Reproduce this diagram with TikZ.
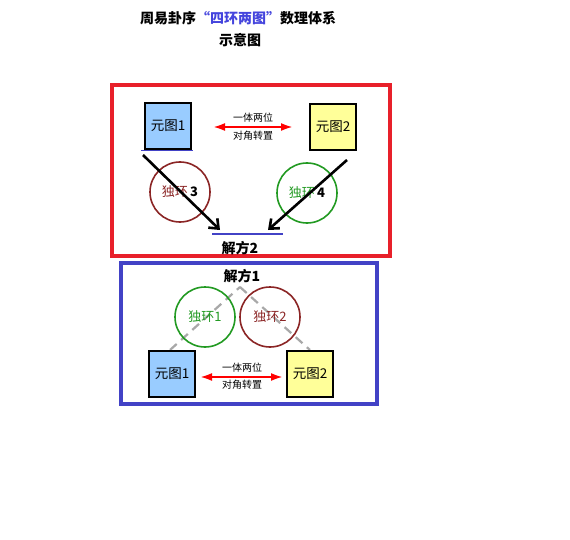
\documentclass[tikz,border=0pt]{standalone}
\usepackage{fontspec}
\newfontfamily\cjk{Noto Sans CJK SC}
\usetikzlibrary{arrows.meta}
\definecolor{redframe}{HTML}{E8202A}
\definecolor{blueframe}{HTML}{4242C6}
\definecolor{boxblue}{HTML}{99CCFF}
\definecolor{boxyellow}{HTML}{FFFF99}
\definecolor{ringred}{HTML}{8B2525}
\definecolor{ringgreen}{HTML}{229A22}
\definecolor{titleblue}{HTML}{4444DD}
\definecolor{dashgrey}{HTML}{A8A8A8}
\begin{document}
\begin{tikzpicture}[x=1pt,y=-1pt,
  yuan/.style={draw=black, line width=1.8pt, minimum width=46pt, minimum height=46pt, inner sep=0pt, font=\cjk\fontsize{13.5}{13.5}\selectfont},
  ring/.style={circle, draw, line width=1.6pt, minimum size=60pt, inner sep=0pt, font=\cjk\fontsize{13}{13}\selectfont},
  note/.style={font=\cjk\fontsize{10}{10}\selectfont, inner sep=0pt},
  heading/.style={font=\cjk\bfseries\fontsize{14}{14}\selectfont, inner sep=0pt},
  swaparrow/.style={draw=red, line width=2.2pt, {Latex[length=12pt,width=8pt]}-{Latex[length=12pt,width=8pt]}},
  blackarrow/.style={draw=black, line width=2.6pt, -{Straight Barb[length=8pt,width=13pt]}},
  frame/.style={line width=3.8pt},
  greydash/.style={draw=dashgrey, line width=2.2pt, dash pattern=on 9pt off 6pt}
]
\useasboundingbox (0,0) rectangle (570,540);
\fill[white] (0,0) rectangle (570,540);

% title
\node[heading] (title1) at (238,18) {周易卦序\textcolor{titleblue}{“四环两图”}数理体系};
\node[heading] (title2) at (240,40) {示意图};

% frames
\draw[frame, draw=redframe] (112,85) rectangle (390,256);
\draw[frame, draw=blueframe] (121,263) rectangle (377,404);

% ===== upper part (解方2) =====
\node[yuan, fill=boxblue] (ya) at (168,126) {元图1};
\node[yuan, fill=boxyellow] (yb) at (333,127) {元图2};
\coordinate (ulA) at (141,151);
\coordinate (ulB) at (193,151);
\draw[blueframe, line width=1pt] (ulA) -- (ulB);

\coordinate (sa) at (213,127);
\coordinate (sb) at (293,127);
\draw[swaparrow] (sa) -- (sb);
\node[note] (na1) at (253,118) {一体两位};
\node[note] (na2) at (253,136) {对角转置};

\node[ring, draw=ringred] (r3) at (180,192) {\textcolor{ringred}{独环}\,\textbf{3}};
\node[ring, draw=ringgreen] (r4) at (307,193) {\textcolor{ringgreen}{独环}\,\textbf{4}};

\coordinate (ba1) at (143,155);
\coordinate (ba2) at (220,230);
\coordinate (bb1) at (347,160);
\coordinate (bb2) at (268,230);
\draw[blackarrow] (ba1) -- (ba2);
\draw[blackarrow] (bb1) -- (bb2);

\coordinate (blA) at (212,234);
\coordinate (blB) at (283,234);
\draw[blueframe, line width=1.5pt] (blA) -- (blB);
\node[heading] (j2) at (240,248) {解方2};

% ===== lower part (解方1) =====
\node[heading] (j1) at (242,276) {解方1};
\coordinate (apex) at (240,287);
\coordinate (da) at (170,350);
\coordinate (db) at (310,350);
\draw[greydash] (da) -- (apex);
\draw[greydash] (apex) -- (db);

\node[ring, draw=ringgreen] (r1) at (205,317) {};
\node[ring, draw=ringred] (r2) at (270,317) {};
\node[font=\cjk\fontsize{13}{13}\selectfont, text=ringgreen] (t1) at (r1) {独环1};
\node[font=\cjk\fontsize{13}{13}\selectfont, text=ringred] (t2) at (r2) {独环2};

\node[yuan, fill=boxblue] (yc) at (172,374) {元图1};
\node[yuan, fill=boxyellow] (yd) at (310,374) {元图2};

\coordinate (sc) at (200,377);
\coordinate (sd) at (283,377);
\draw[swaparrow] (sc) -- (sd);
\node[note] (nc1) at (242,368) {一体两位};
\node[note] (nc2) at (242,385) {对角转置};
\end{tikzpicture}
\end{document}
